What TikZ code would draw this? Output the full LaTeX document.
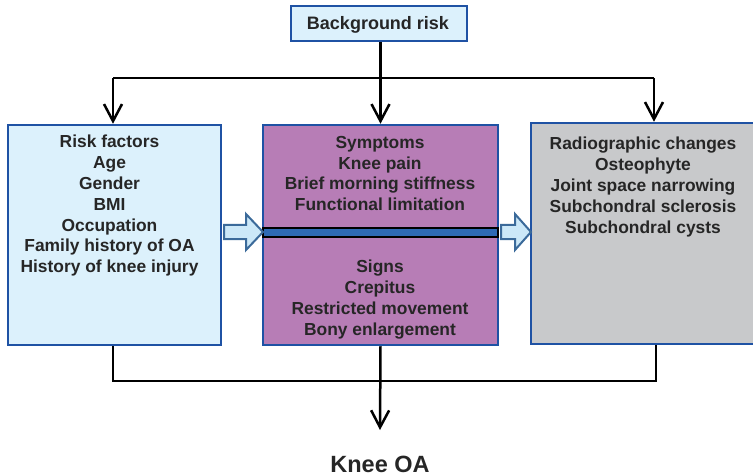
\documentclass[tikz,border=0pt]{standalone}
\usepackage{fontspec}
\setmainfont{Liberation Sans}
\usetikzlibrary{arrows.meta}
\definecolor{boxblue}{HTML}{1F52A4}
\definecolor{lightfill}{HTML}{DCF1FC}
\definecolor{purplefill}{HTML}{B77DB6}
\definecolor{greyfill}{HTML}{C8C9CB}
\definecolor{arrowfill}{HTML}{CCE8F8}
\definecolor{arrowedge}{HTML}{3B6A9A}
\definecolor{barblue}{HTML}{2E6AB4}
\definecolor{txt}{HTML}{262626}
\tikzset{
  panel/.style={draw=boxblue, line width=2.5pt, inner sep=0pt},
  boxtext/.style={inner sep=0pt, align=center, text=txt, font=\fontsize{17.4}{20.8}\selectfont\bfseries, anchor=north},
  conn/.style={line width=2.5pt, black},
  tip/.style={-{Straight Barb[length=17pt,width=18pt,line width=2.5pt]}},
  blockarrow/.style={draw=arrowedge, fill=arrowfill, line width=2pt, line join=miter},
}
\begin{document}
\begin{tikzpicture}[x=1pt,y=-1pt]
\useasboundingbox (0,0) rectangle (753,476);
% boxes
\node[panel, fill=lightfill, minimum width=176pt, minimum height=35pt] (bg) at (379,23.5) {};
\node[inner sep=0pt, text=txt, font=\fontsize{18}{20}\selectfont\bfseries, anchor=base] (bgt) at (378,30) {Background risk};
\node[panel, fill=lightfill, minimum width=213pt, minimum height=220pt] (left) at (114.5,235) {};
\node[panel, fill=purplefill, minimum width=235pt, minimum height=220pt] (mid) at (380.5,235) {};
\node[panel, fill=greyfill, minimum width=226pt, minimum height=221pt] (right) at (644,233.5) {};
% texts
\node[boxtext] (lt) at (109.5,135) {Risk factors\\Age\\Gender\\BMI\\Occupation\\Family history of OA\\History of knee injury};
\node[boxtext] (mt1) at (380,136) {Symptoms\\Knee pain\\Brief morning stiffness\\Functional limitation};
\node[boxtext] (mt2) at (380,260) {Signs\\Crepitus\\Restricted movement\\Bony enlargement};
\node[boxtext] (rt) at (643,137) {Radiographic changes\\Osteophyte\\Joint space narrowing\\Subchondral sclerosis\\Subchondral cysts};
% bar in middle
\draw[black, line width=2pt, fill=barblue] (263,228.5) rectangle (498,236.5);
% block arrows
\draw[blockarrow] (224,225) -- (246,225) -- (246,214) -- (263,232) -- (246,250) -- (246,239) -- (224,239) -- cycle;
\draw[blockarrow] (501,225) -- (515,225) -- (515,214) -- (531,232) -- (515,250) -- (515,239) -- (501,239) -- cycle;
% top connectors
\coordinate (tl) at (113,78);
\coordinate (tr) at (654,78);
\draw[conn] (tl) -- (tr);
\draw[conn, tip] (bg.south -| mid.north) -- (mid.north);
\draw[conn, tip] (tl) -- (tl |- left.north);
\draw[conn, tip] (tr) -- (tr |- right.north);
% bottom connectors
\coordinate (bl) at (113,381);
\coordinate (br) at (656,381);
\draw[conn, line join=miter] (bl |- left.south) -- (bl) -- (br) -- (br |- right.south);
\node[inner sep=0pt, text=txt, font=\fontsize{23.5}{26}\selectfont\bfseries, anchor=base] (koa) at (380,472) {Knee OA};
\coordinate (kt) at (380,430);
\draw[conn, tip] (mid.south) -- (kt);
\end{tikzpicture}
\end{document}
